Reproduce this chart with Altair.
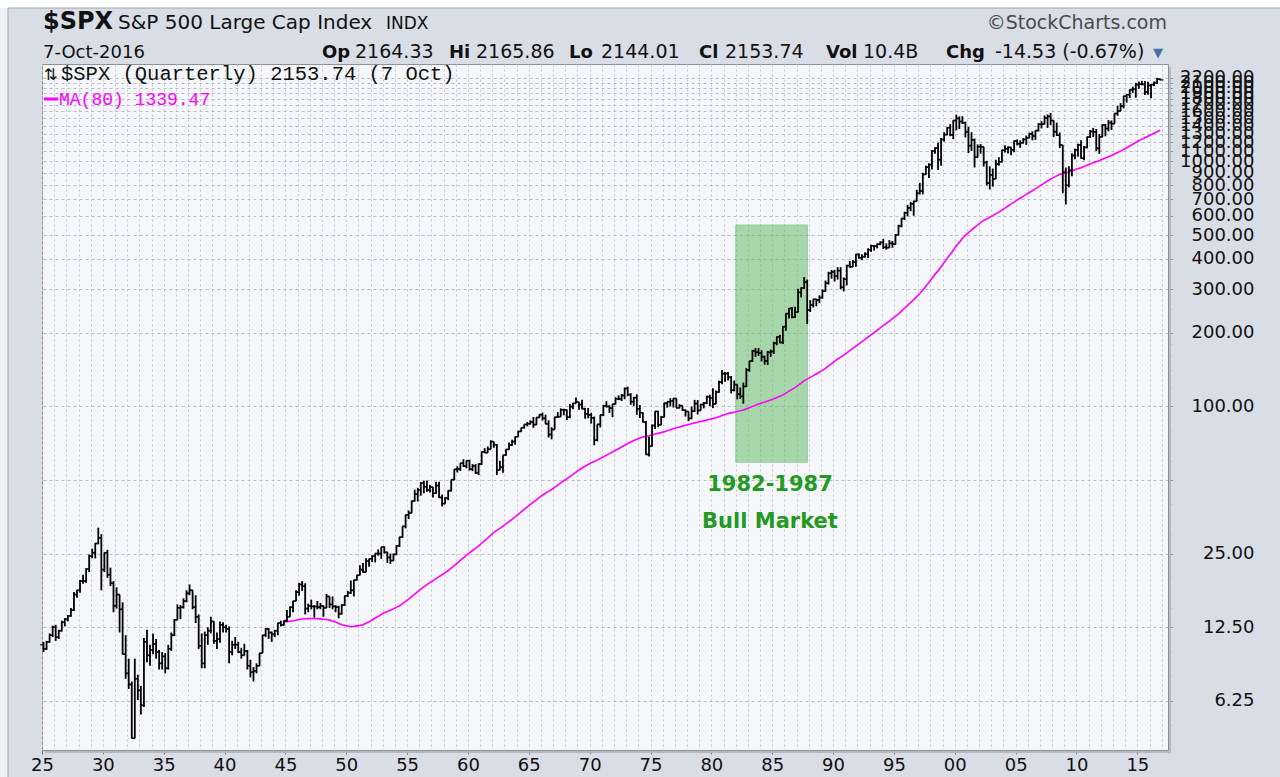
import altair as alt
import pandas as pd

# ---------------- data (quarterly bars, S&P 500) ----------------
FIRST_YEAR = 1925
FIRST_OPEN = 10.6

HIGH = [
    10.9, 11.0, 11.8, 12.7,  12.8, 12.2, 13.3, 13.6,  14.0, 15.0, 17.4, 17.8,  19.5, 20.5, 21.8, 24.8,
    26.2, 27.6, 31.9, 30.0,  25.3, 25.9, 21.9, 19.3,  18.2, 17.0, 15.8, 11.6,  9.3, 7.5, 9.3, 8.0,
    7.2, 11.3, 12.2, 10.6,  11.8, 11.2, 10.1, 9.9,  9.8, 10.6, 11.9, 13.5,  15.5, 15.4, 16.4, 17.7,
    18.7, 17.7, 16.9, 14.1,  11.8, 12.0, 12.5, 13.8,  13.2, 11.9, 13.2, 13.1,  12.8, 12.6, 11.0, 11.4,
    10.9, 10.3, 10.7, 10.1,  9.2, 8.6, 8.9, 9.8,  11.6, 12.4, 12.4, 12.0,  12.2, 13.0, 13.3, 13.3,
    14.7, 15.2, 16.0, 17.7,  19.0, 19.3, 18.9, 15.6,  16.2, 15.4, 16.0, 15.7,  15.3, 17.1, 16.6, 16.7,
    15.4, 15.3, 15.5, 16.8,  17.6, 19.4, 19.5, 20.4,  22.4, 22.9, 23.9, 23.8,  24.6, 25.0, 26.0, 26.6,
    26.7, 25.4, 25.0, 25.0,  27.0, 29.2, 32.3, 36.0,  37.5, 41.0, 45.6, 46.4,  48.9, 49.6, 49.7, 47.6,
    46.7, 49.1, 49.1, 43.6,  42.5, 45.3, 50.1, 55.2,  56.8, 58.6, 60.7, 60.0,  60.4, 58.0, 58.0, 58.4,
    65.1, 67.4, 68.5, 72.6,  71.6, 70.0, 59.8, 63.1,  66.7, 71.0, 73.0, 75.1,  79.1, 81.7, 84.4, 86.3,
    87.6, 90.3, 90.0, 92.6,  94.1, 92.4, 87.6, 82.0,  90.2, 94.6, 98.0, 97.6,  96.9, 102.0, 103.0, 108.4,
    103.7, 106.2, 98.3, 98.3,  94.0, 90.7, 84.3, 92.2,  101.0, 104.8, 100.8, 102.1,  108.9, 110.7, 112.1, 119.2,
    120.2, 113.0, 109.0, 111.8,  101.1, 94.3, 86.9, 75.0,  84.1, 95.2, 95.6, 91.2,  103.4, 104.3, 107.8, 107.8,
    107.0, 101.9, 100.5, 96.5,  95.1, 99.6, 106.1, 106.0,  102.0, 104.0, 110.5, 111.3,  118.4, 116.0, 127.0, 140.5,
    138.1, 138.0, 132.9, 127.4,  122.6, 119.3, 124.9, 143.0,  153.0, 170.0, 172.7, 172.7,  169.3, 161.0, 168.3, 170.4,
    183.4, 192.4, 195.7, 212.0,  238.9, 251.8, 254.0, 254.9,  301.9, 306.0, 336.8, 328.9,  271.1, 274.0, 274.0, 283.7,
    300.0, 326.0, 354.0, 360.4,  360.6, 369.8, 369.8, 335.8,  378.0, 392.0, 395.6, 418.3,  421.0, 418.0, 425.3, 441.3,
    456.8, 453.7, 462.1, 471.3,  482.9, 462.4, 477.0, 473.4,  503.9, 551.1, 586.0, 622.9,  664.2, 682.0, 690.0, 765.3,
    817.0, 898.7, 961.0, 983.1,  1110.0, 1139.0, 1190.6, 1244.9,  1316.6, 1383.0, 1420.3, 1473.1,  1552.9, 1527.0, 1530.1, 1454.5,
    1383.4, 1315.9, 1239.8, 1173.6,  1176.9, 1146.0, 1005.0, 954.3,  935.1, 1015.3, 1040.0, 1112.6,  1163.2, 1150.6, 1140.8, 1217.9,
    1229.1, 1219.6, 1245.9, 1275.8,  1310.9, 1326.7, 1340.3, 1431.8,  1461.6, 1540.6, 1555.9, 1576.1,  1471.8, 1440.2, 1313.2, 1167.0,
    943.9, 956.2, 1080.2, 1130.4,  1180.7, 1219.8, 1157.2, 1262.6,  1344.1, 1370.6, 1356.5, 1292.7,  1419.2, 1422.4, 1474.5, 1470.0,
    1570.3, 1687.2, 1729.9, 1849.4,  1883.9, 1968.2, 2019.3, 2093.6,  2119.6, 2134.7, 2132.8, 2116.5,  2072.2, 2120.6, 2193.8, 2169.6,
]

LOW = [
    9.9, 10.1, 10.8, 11.4,  11.0, 11.2, 12.0, 12.6,  13.2, 13.8, 14.6, 16.5,  17.3, 18.8, 19.0, 21.0,
    23.9, 23.9, 27.3, 17.7,  21.0, 19.9, 18.4, 14.4,  14.9, 11.9, 9.7, 7.7,  7.0, 4.4, 4.4, 6.3,
    5.5, 5.9, 9.0, 8.7,  9.7, 9.3, 8.4, 8.4,  8.1, 8.4, 10.0, 11.5,  13.4, 13.5, 14.9, 15.8,
    16.9, 14.8, 13.0, 10.2,  8.5, 8.5, 10.6, 11.8,  10.7, 10.2, 10.8, 11.9,  11.9, 8.9, 9.6, 10.2,
    9.8, 9.3, 9.7, 8.4,  7.8, 7.5, 8.1, 8.7,  9.8, 11.4, 11.2, 10.9,  11.4, 11.6, 12.6, 12.7,
    13.2, 13.8, 14.4, 16.0,  16.8, 17.6, 14.1, 14.4,  14.8, 13.7, 14.8, 14.8,  13.8, 15.0, 15.0, 14.8,
    14.4, 13.6, 14.1, 15.3,  16.6, 17.1, 16.7, 19.4,  20.6, 20.9, 21.0, 22.1,  23.1, 23.0, 24.5, 23.8,
    25.0, 22.9, 22.7, 23.6,  24.8, 26.6, 29.0, 31.7,  34.6, 36.8, 40.8, 40.8,  43.1, 44.1, 44.7, 44.4,
    42.4, 43.9, 42.2, 38.9,  40.0, 41.3, 44.8, 49.9,  53.6, 54.4, 56.5, 55.8,  54.6, 54.3, 52.9, 52.3,
    57.6, 64.4, 64.6, 66.7,  67.6, 52.3, 54.8, 53.5,  62.7, 66.6, 68.9, 69.6,  75.0, 78.6, 81.2, 82.7,
    84.2, 81.6, 83.8, 89.9,  87.4, 84.5, 74.5, 73.2,  80.3, 89.5, 90.6, 91.8,  87.7, 89.3, 97.2, 102.7,
    96.6, 97.2, 88.9, 89.2,  84.9, 69.3, 71.9, 81.9,  91.1, 98.9, 93.9, 90.2,  101.7, 105.9, 105.0, 106.8,
    109.8, 101.4, 100.3, 92.2,  89.5, 86.0, 63.5, 62.3,  68.6, 80.7, 82.1, 83.9,  90.2, 98.6, 99.8, 98.8,
    98.2, 98.1, 95.8, 90.7,  86.9, 88.5, 94.8, 92.5,  96.0, 98.0, 102.0, 99.9,  98.2, 102.0, 113.6, 123.0,
    126.0, 127.4, 112.8, 115.0,  106.7, 107.3, 102.4, 119.8,  138.3, 151.5, 159.0, 160.4,  152.3, 147.8, 147.3, 159.1,
    163.4, 177.3, 180.7, 179.4,  203.5, 228.3, 228.7, 229.0,  242.2, 278.2, 301.4, 216.5,  242.6, 253.0, 256.0, 263.3,
    275.3, 294.0, 314.0, 331.9,  322.9, 329.1, 300.0, 294.5,  311.5, 368.6, 370.0, 371.4,  401.6, 394.4, 405.3, 402.7,
    426.9, 432.2, 441.4, 454.7,  438.9, 435.9, 443.7, 444.0,  457.2, 498.0, 538.0, 576.0,  597.0, 626.0, 600.0, 686.0,
    733.0, 733.5, 883.0, 855.3,  927.7, 1074.0, 923.3, 959.4,  1205.5, 1281.0, 1268.0, 1233.7,  1339.4, 1356.6, 1421.0, 1254.1,
    1081.2, 1103.8, 944.8, 1037.2,  1074.4, 952.9, 797.7, 768.6,  788.9, 847.9, 960.8, 990.4,  1087.2, 1076.3, 1060.7, 1090.2,
    1163.7, 1136.2, 1183.6, 1168.2,  1245.7, 1219.3, 1224.5, 1327.1,  1363.9, 1416.4, 1370.6, 1406.1,  1256.9, 1272.0, 1133.5, 741.0,
    666.8, 783.3, 869.3, 1020.2,  1044.5, 1028.3, 1010.9, 1131.9,  1249.1, 1258.1, 1101.5, 1074.8,  1258.9, 1266.7, 1325.4, 1343.4,
    1426.2, 1536.0, 1604.6, 1646.5,  1737.9, 1814.4, 1904.8, 1820.7,  1980.9, 2048.4, 1867.0, 1871.9,  1810.1, 2025.9, 2074.0, 2144.0,
]

CLOSE = [
    10.2, 10.9, 11.6, 12.5,  11.4, 12.1, 13.1, 13.5,  13.9, 14.7, 17.0, 17.7,  19.3, 19.3, 21.6, 24.4,
    25.2, 27.5, 29.0, 21.5,  25.2, 20.5, 18.9, 15.3,  17.0, 14.8, 9.7, 8.1,  7.3, 4.4, 7.7, 6.9,
    6.0, 10.9, 9.6, 10.1,  10.7, 9.9, 8.9, 9.5,  8.5, 10.2, 11.6, 13.4,  15.0, 15.1, 16.0, 17.2,
    17.7, 15.1, 13.8, 10.5,  8.9, 11.6, 12.1, 13.2,  11.0, 11.2, 12.8, 12.5,  12.3, 9.9, 10.6, 10.6,
    9.9, 9.6, 10.0, 8.7,  8.2, 8.3, 8.7, 9.8,  11.6, 12.3, 11.9, 11.7,  12.1, 13.0, 12.8, 13.3,
    13.8, 15.1, 16.0, 17.4,  18.7, 18.4, 14.9, 15.3,  15.2, 15.2, 15.1, 15.3,  15.0, 16.7, 15.5, 15.2,
    15.1, 14.2, 15.4, 16.8,  17.3, 17.7, 19.5, 20.4,  21.5, 21.0, 23.3, 23.8,  24.4, 25.0, 25.0, 26.6,
    25.3, 24.1, 23.4, 24.8,  26.9, 29.2, 32.3, 36.0,  36.6, 41.0, 43.7, 45.5,  48.5, 46.9, 45.4, 46.7,
    44.1, 47.4, 42.4, 40.0,  42.1, 45.2, 50.1, 55.2,  55.4, 58.5, 56.9, 59.9,  55.3, 56.9, 53.5, 58.1,
    65.1, 64.6, 66.7, 71.6,  69.6, 54.8, 56.3, 63.1,  66.6, 69.4, 71.7, 75.0,  78.9, 81.7, 84.2, 84.8,
    86.2, 84.1, 89.9, 92.4,  89.2, 84.7, 76.6, 80.3,  90.2, 90.6, 96.7, 96.5,  90.2, 99.6, 102.7, 103.9,
    101.5, 97.7, 93.1, 92.1,  89.6, 72.7, 84.3, 92.2,  100.3, 99.7, 98.3, 102.1,  107.2, 107.1, 110.6, 118.1,
    111.5, 104.3, 108.4, 97.6,  94.0, 86.0, 63.5, 68.6,  83.4, 95.2, 83.9, 90.2,  102.8, 104.3, 105.2, 107.5,
    98.4, 100.5, 96.5, 95.1,  89.2, 95.5, 102.5, 96.1,  101.6, 102.9, 109.3, 107.9,  102.1, 114.2, 125.5, 135.8,
    136.0, 131.2, 116.2, 122.6,  112.0, 109.6, 120.4, 140.6,  153.0, 168.1, 166.1, 164.9,  159.2, 153.2, 166.1, 167.2,
    180.7, 191.9, 182.1, 211.3,  238.9, 250.8, 231.3, 242.2,  291.7, 304.0, 321.8, 247.1,  258.9, 273.5, 271.9, 277.7,
    294.9, 318.0, 349.2, 353.4,  339.9, 358.0, 306.1, 330.2,  375.2, 371.2, 387.9, 417.1,  403.7, 408.1, 417.8, 435.7,
    451.7, 450.5, 458.9, 466.5,  445.8, 444.3, 462.7, 459.3,  500.7, 544.8, 584.4, 615.9,  645.5, 670.6, 687.3, 740.7,
    757.1, 885.1, 947.3, 970.4,  1101.8, 1133.8, 1017.0, 1229.2,  1286.4, 1372.7, 1282.7, 1469.3,  1498.6, 1454.6, 1436.5, 1320.3,
    1160.3, 1224.4, 1040.9, 1148.1,  1147.4, 989.8, 815.3, 879.8,  848.2, 974.5, 996.0, 1111.9,  1126.2, 1140.8, 1114.6, 1211.9,
    1180.6, 1191.3, 1228.8, 1248.3,  1294.9, 1270.2, 1335.9, 1418.3,  1420.9, 1503.4, 1526.8, 1468.4,  1322.7, 1280.0, 1166.4, 903.3,
    797.9, 919.3, 1057.1, 1115.1,  1169.4, 1030.7, 1141.2, 1257.6,  1325.8, 1320.6, 1131.4, 1257.6,  1408.5, 1362.2, 1440.7, 1426.2,
    1569.2, 1606.3, 1681.6, 1848.4,  1872.3, 1960.2, 1972.3, 2058.9,  2067.9, 2063.1, 1920.0, 2043.9,  2059.7, 2098.9, 2168.3, 2153.7,
]

X_TICKS = list(range(1925, 2016, 5))
X_GRID = list(range(1925, 2018))
Y_TICKS = [6.25, 12.5, 25, 50, 100, 200, 300, 400, 500, 600, 700, 800, 900,
           1000, 1100, 1200, 1300, 1400, 1500, 1600, 1700, 1800, 1900, 2000, 2100, 2200]
Y_MINOR = [5, 8, 10, 15, 20, 30, 40, 60, 80, 120, 140, 160, 180, 250]

BULL_START = [1982.0]
BULL_END = [1987.9]
BULL_LOW = [59]
BULL_HIGH = [550]

# ---------------- table ----------------
n = len(CLOSE)
t = [FIRST_YEAR + i / 4 + 0.125 for i in range(n)]
opens = [FIRST_OPEN] + CLOSE[:-1]
df = pd.DataFrame({"t": t, "open": opens, "high": HIGH, "low": LOW, "close": CLOSE})
df["hi"] = df[["high", "open", "close"]].max(axis=1)
df["lo"] = df[["low", "open", "close"]].min(axis=1)

bull = pd.DataFrame({"x0": BULL_START, "x1": BULL_END, "y0": BULL_LOW, "y1": BULL_HIGH})
one = pd.DataFrame({"k": [0]})

FONT = "DejaVu Sans"
xs = alt.Scale(domain=[1925, 2017.52], nice=False, zero=False)
ys = alt.Scale(type="log", domain=[3.94, 2500], nice=False)

x_main = alt.Axis(orient="bottom", values=X_TICKS, labelExpr="slice(toString(datum.value), 2)",
                  grid=False, domain=False, tickSize=4, tickColor="#6E737C", labelFont=FONT,
                  labelFontSize=18, labelColor="#111111", labelPadding=2, labelFlush=False,
                  labelOverlap=False, title=None)
x_grid = alt.Axis(orient="bottom", values=X_GRID, grid=True, gridColor="#C3C7CF", gridDash=[2, 3],
                  gridWidth=1, labels=False, ticks=False, domain=False, title=None)
y_main = alt.Axis(orient="right", values=Y_TICKS,
                  labelExpr="datum.value == 50 ? '' : format(datum.value, '.2f')",
                  grid=True, gridColor="#B8BCC5", gridDash=[3, 3], gridWidth=1,
                  tickSize=4, tickColor="#6E737C", domain=False, labelAlign="right",
                  labelPadding=82, labelFont=FONT, labelFontSize=18, labelColor="#111111",
                  labelOverlap=False, labelFlush=False, title=None)
y_minor = alt.Axis(orient="right", values=Y_MINOR, grid=False, labels=False, tickSize=3,
                   tickColor="#8A8F98", domain=False, title=None)

rect = alt.Chart(bull).mark_rect(color="#5CB85C", opacity=0.5, stroke="#4FA84F",
                                 strokeWidth=1).encode(
    x=alt.X("x0:Q", scale=xs, axis=None), x2="x1:Q",
    y=alt.Y("y0:Q", scale=ys, axis=None), y2="y1:Q")

ma = alt.Chart(df).transform_window(
    ma="mean(close)", cnt="count()", frame=[-79, 0], sort=[alt.SortField("t")]
).transform_filter("datum.cnt >= 80").mark_line(color="#FF00FF", strokeWidth=1.6).encode(
    x=alt.X("t:Q", scale=xs, axis=x_grid),
    y=alt.Y("ma:Q", scale=ys, axis=y_minor))

bars = alt.Chart(df).mark_rule(color="#000000", strokeWidth=1.8).encode(
    x=alt.X("t:Q", scale=xs, axis=x_main),
    y=alt.Y("lo:Q", scale=ys, axis=y_main), y2="hi:Q")

open_tick = alt.Chart(df).mark_tick(color="#000000", orient="horizontal", size=3.5, thickness=1.6,
                                    xOffset=-1.6).encode(
    x=alt.X("t:Q", scale=xs, axis=None), y=alt.Y("open:Q", scale=ys, axis=None))
close_tick = alt.Chart(df).mark_tick(color="#000000", orient="horizontal", size=3.5, thickness=1.6,
                                     xOffset=1.6).encode(
    x=alt.X("t:Q", scale=xs, axis=None), y=alt.Y("close:Q", scale=ys, axis=None))


def txt(s, x, y, size=18, weight="normal", color="#111111", align="left", font=FONT):
    return alt.Chart(one).mark_text(text=s, align=align, baseline="alphabetic", font=font,
                                    fontSize=size, fontWeight=weight, color=color).encode(
        x=alt.value(x), y=alt.value(y))


texts = [
    txt("1982-1987", 728, 427, size=21, weight="bold", color="#229A22", align="center"),
    txt("Bull Market", 728, 464, size=21, weight="bold", color="#229A22", align="center"),
    # header
    txt("$SPX", 1, -35, size=24, weight="bold"),
    txt("S&P 500 Large Cap Index", 76, -35, size=20),
    txt("INDX", 344, -35, size=17),
    txt("\u00a9StockCharts.com", 1125, -35, size=19, color="#4A4A4A", align="right"),
    txt("7-Oct-2016", 1, -6, size=18),
    txt("Op", 280, -6, size=18, weight="bold"),
    txt("2164.33", 313, -6, size=19),
    txt("Hi", 407, -6, size=18, weight="bold"),
    txt("2165.86", 434, -6, size=19),
    txt("Lo", 527, -6, size=18, weight="bold"),
    txt("2144.01", 559, -6, size=19),
    txt("Cl", 657, -6, size=18, weight="bold"),
    txt("2153.74", 683, -6, size=19),
    txt("Vol", 784, -6, size=18, weight="bold"),
    txt("10.4B", 821, -6, size=19),
    txt("Chg", 904, -6, size=18, weight="bold"),
    txt("-14.53 (-0.67%)", 953, -6, size=19),
    txt("\u25bc", 1111, -7, size=13, color="#4A6FA5"),
    # in-plot legend
    txt("\u21c5", 2, 16, size=16, font="DejaVu Sans"),
    txt("$SPX (Quarterly) 2153.74 (7 Oct)", 19, 16, size=20.5, font="Liberation Mono"),
    txt("MA(80) 1339.47", 17, 41, size=18, color="#FF00FF", font="Liberation Mono"),
]

ma_key = alt.Chart(one).mark_rule(color="#FF00FF", strokeWidth=3).encode(
    x=alt.value(2), x2=alt.value(16), y=alt.value(35))

top_strip = alt.Chart(one).mark_rect(color="#FFFFFF").encode(
    x=alt.value(-42), x2=alt.value(1238), y=alt.value(-64), y2=alt.value(-56))
left_strip = alt.Chart(one).mark_rect(color="#EEF0F3").encode(
    x=alt.value(-42), x2=alt.value(-34), y=alt.value(-56), y2=alt.value(713))
border_top = alt.Chart(one).mark_rule(color="#9EA3AB", strokeWidth=1).encode(
    x=alt.value(-34), x2=alt.value(1238), y=alt.value(-56))
border_left = alt.Chart(one).mark_rule(color="#9EA3AB", strokeWidth=1).encode(
    x=alt.value(-34), y=alt.value(-56), y2=alt.value(713))
shadow_right = alt.Chart(one).mark_rule(color="#B4B9C2", strokeWidth=2).encode(
    x=alt.value(1128), y=alt.value(3), y2=alt.value(689))
shadow_bottom = alt.Chart(one).mark_rule(color="#B4B9C2", strokeWidth=2).encode(
    x=alt.value(3), x2=alt.value(1129), y=alt.value(688))

chart = alt.layer(
    rect, ma, bars, open_tick, close_tick, ma_key, top_strip, left_strip, border_top,
    border_left, shadow_right, shadow_bottom, *texts
).resolve_axis(x="independent", y="independent").properties(
    width=1126, height=686,
    autosize=alt.AutoSizeParams(type="none"),
    padding={"left": 42, "top": 64, "right": 112, "bottom": 27},
    background="#D9DDE6",
).configure_view(fill="#F5F6FA", stroke="#8C9099", strokeWidth=1)

chart.save("out.html", embed_options={"renderer": "svg", "actions": False})
